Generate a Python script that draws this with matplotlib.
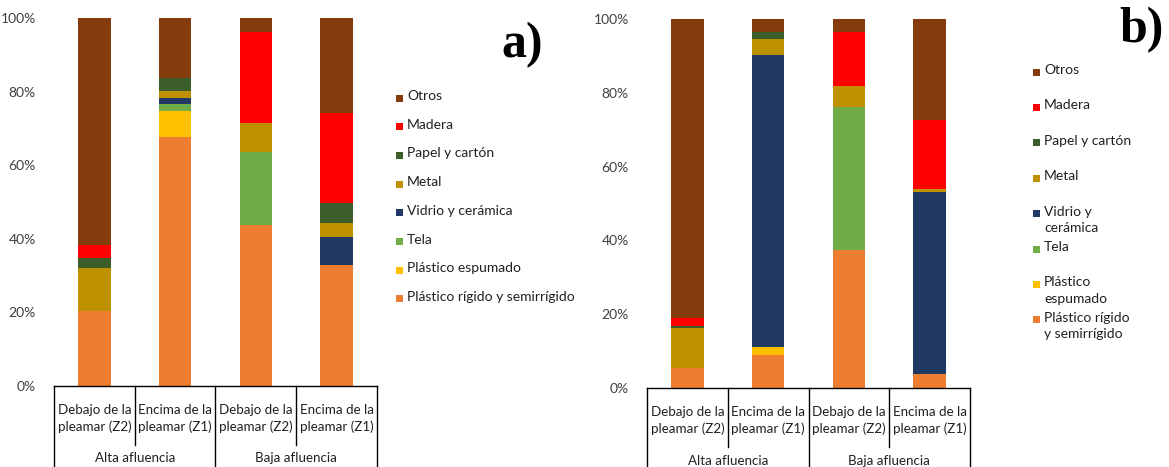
import matplotlib
matplotlib.use("Agg")
import matplotlib.pyplot as plt
import numpy as np
from matplotlib.patches import Rectangle

plt.rcParams['font.family'] = ['Lato', 'DejaVu Sans']

# Categories and groups on the x axis
sites = ["Debajo de la\npleamar (Z2)", "Encima de la\npleamar (Z1)",
         "Debajo de la\npleamar (Z2)", "Encima de la\npleamar (Z1)"]
groups = ["Alta afluencia", "Baja afluencia"]

# Materials, stacked from bottom to top
materials = ["Plástico rígido y semirrígido", "Plástico espumado", "Tela",
             "Vidrio y cerámica", "Metal", "Papel y cartón", "Madera", "Otros"]
colors = ["#ED7D31", "#FFC000", "#70AD47", "#203864",
          "#BF9000", "#3B5E2B", "#FF0000", "#843C0C"]

# Panel a) percentage composition per site
a_rigido = [20.5, 67.6, 43.8, 32.9]
a_espumado = [0.0, 7.1, 0.0, 0.0]
a_tela = [0.0, 1.8, 19.9, 0.0]
a_vidrio = [0.0, 1.7, 0.0, 7.5]
a_metal = [11.5, 2.0, 7.7, 3.8]
a_papel = [2.7, 3.6, 0.0, 5.4]
a_madera = [3.5, 0.0, 24.7, 24.5]
a_otros = [61.8, 16.2, 3.9, 25.9]

# Panel b) percentage composition per site
b_rigido = [5.3, 8.9, 37.4, 3.7]
b_espumado = [0.0, 2.3, 0.0, 0.0]
b_tela = [0.0, 0.0, 38.8, 0.0]
b_vidrio = [0.0, 79.0, 0.0, 49.5]
b_metal = [11.0, 4.3, 5.6, 0.6]
b_papel = [0.5, 2.1, 0.0, 0.0]
b_madera = [2.1, 0.0, 14.8, 18.8]
b_otros = [81.1, 3.4, 3.4, 27.4]

panel_a = [a_rigido, a_espumado, a_tela, a_vidrio, a_metal, a_papel, a_madera, a_otros]
panel_b = [b_rigido, b_espumado, b_tela, b_vidrio, b_metal, b_papel, b_madera, b_otros]

# Legend labels for the narrower legend of panel b)
labels_b = ["Plástico rígido\ny semirrígido", "Plástico\nespumado", "Tela",
            "Vidrio y\ncerámica", "Metal", "Papel y cartón", "Madera", "Otros"]

W, H = 1169, 467
fig = plt.figure(figsize=(W / 100, H / 100), dpi=100)
TEXT = "#202020"


def px_axes(left, right, zero_y, top_y):
    return [left / W, 1 - zero_y / H, (right - left) / W, (zero_y - top_y) / H]


def draw_panel(ax, series):
    x = np.arange(len(sites)) + 0.5
    bottom = np.zeros(len(sites))
    for vals, col in zip(series, colors):
        vals = np.asarray(vals, dtype=float)
        ax.bar(x, vals, width=0.4, bottom=bottom, color=col, linewidth=0)
        bottom += vals
    ax.set_xlim(0, len(sites))
    ax.set_ylim(0, 100)
    ax.set_yticks(np.arange(0, 101, 20))
    ax.set_yticklabels([f"{v}%" for v in range(0, 101, 20)], fontsize=10, color="#404040")
    ax.tick_params(axis="y", length=0, pad=13)
    ax.set_xticks([])
    for s in ("left", "right", "top"):
        ax.spines[s].set_visible(False)
    ax.spines["bottom"].set_color("black")
    ax.spines["bottom"].set_linewidth(1.0)

    # Category table under the axis
    tr = ax.get_xaxis_transform()
    for i, lab in enumerate(sites):
        ax.text(i + 0.5, -0.088, lab, transform=tr, ha="center", va="center",
                fontsize=9.6, linespacing=1.4, color=TEXT)
    for g, lab in enumerate(groups):
        ax.text(2 * g + 1, -0.197, lab, transform=tr, ha="center", va="center",
                fontsize=9.6, color=TEXT)
    for xb in (1, 3):
        ax.plot([xb, xb], [0, -0.16], transform=tr, color="black", lw=1.0, clip_on=False)
    for xb in (0, 2, 4):
        ax.plot([xb, xb], [0, -0.23], transform=tr, color="black", lw=1.0, clip_on=False)


def legend_entries(x_marker, y_first, step, labels):
    # Entries listed from the top of the stack downwards
    order = list(range(len(materials)))[::-1]
    for k, idx in enumerate(order):
        yc = y_first + k * step
        fig.patches.append(Rectangle((x_marker / W, 1 - (yc + 3.5) / H), 7 / W, 7 / H,
                                     transform=fig.transFigure, color=colors[idx],
                                     linewidth=0))
        fig.text((x_marker + 11) / W, 1 - (yc - 8) / H, labels[idx], ha="left", va="top",
                 fontsize=10, color=TEXT, linespacing=1.45)


ax_a = fig.add_axes(px_axes(54, 377, 386, 18))
draw_panel(ax_a, panel_a)
ax_b = fig.add_axes(px_axes(647, 970, 388, 19))
draw_panel(ax_b, panel_b)

legend_entries(396, 98, 28.7, materials)
legend_entries(1033, 72, 35.4, labels_b)

fig.text(522 / W, 1 - 45 / H, "a)", ha="center", va="center", fontsize=36,
         fontweight="bold", family=["Liberation Serif", "DejaVu Serif"])
fig.text(1142 / W, 1 - 30 / H, "b)", ha="center", va="center", fontsize=36,
         fontweight="bold", family=["Liberation Serif", "DejaVu Serif"])

fig.savefig("out.png", dpi=100)
